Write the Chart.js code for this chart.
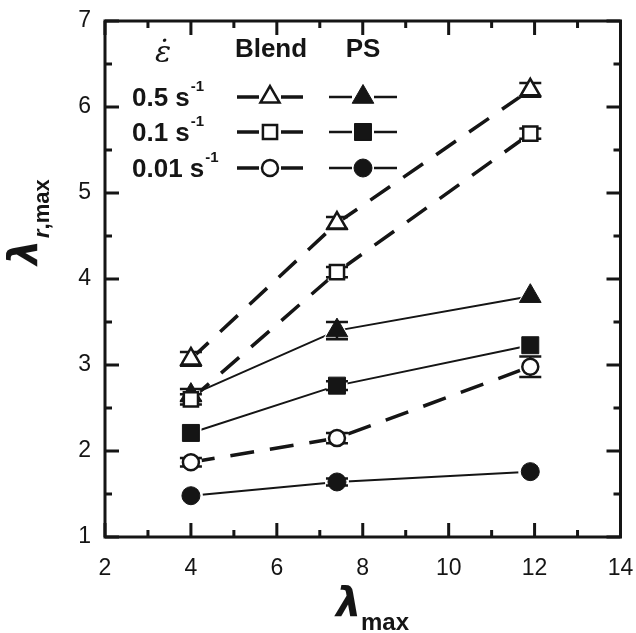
<!DOCTYPE html>
<html>
<head>
<meta charset="utf-8">
<script src="https://cdn.jsdelivr.net/npm/chart.js@4/dist/chart.umd.min.js"></script>
<style>
  html, body { margin: 0; padding: 0; background: #fff; }
</style>
</head>
<body>
<canvas id="chart" width="636" height="633"></canvas>
<script>
// lambda_max values at which stretching was done
const lambdaMax = [4, 7.4, 11.9];

// lambda_r,max for the blend (open symbols) and pure PS (filled symbols)
const blend05 = [3.07, 4.65, 6.2];
const blend01 = [2.6, 4.08, 5.69];
const blend001 = [1.87, 2.15, 2.98];
const ps05 = [2.65, 3.4, 3.8];
const ps01 = [2.21, 2.76, 3.23];
const ps001 = [1.48, 1.64, 1.76];

// error bar half-heights
const blend05Err = [0.08, 0.07, 0.08];
const blend01Err = [0.06, 0.06, 0.06];
const blend001Err = [0.05, 0.06, 0.12];
const ps05Err = [0.07, 0.1, 0];
const ps01Err = [0, 0.05, 0];
const ps001Err = [0, 0.04, 0];

const rates = ['0.5', '0.1', '0.01'];
const ink = '#151515';

const groups = [
  {ys: blend05, err: blend05Err, style: 'triangle', open: true, r: 11},
  {ys: blend01, err: blend01Err, style: 'rect', open: true, r: 10},
  {ys: blend001, err: blend001Err, style: 'circle', open: true, r: 8},
  {ys: ps05, err: ps05Err, style: 'triangle', open: false, r: 12.5},
  {ys: ps01, err: ps01Err, style: 'rect', open: false, r: 12},
  {ys: ps001, err: ps001Err, style: 'circle', open: false, r: 9}
];

const points = g => lambdaMax.map((x, i) => ({x: x, y: g.ys[i]}));

// lines first, then white halos so lines stop short of the symbols, then symbols
const lineSets = groups.map(g => ({
  data: points(g),
  showLine: true,
  tension: 0,
  borderColor: ink,
  borderWidth: g.open ? 3.5 : 2,
  borderDash: g.open ? [24, 16] : [],
  pointRadius: 0,
  pointHoverRadius: 0,
  order: 3
}));

const haloSets = groups.map(g => ({
  data: points(g),
  showLine: false,
  pointStyle: g.style,
  pointRadius: g.r + 3,
  pointHoverRadius: g.r + 3,
  pointBackgroundColor: '#fff',
  pointBorderColor: '#fff',
  pointBorderWidth: 0,
  order: 2
}));

const markSets = groups.map(g => ({
  data: points(g),
  err: g.err,
  showLine: false,
  pointStyle: g.style,
  pointRadius: g.r,
  pointHoverRadius: g.r,
  pointBackgroundColor: g.open ? '#fff' : ink,
  pointBorderColor: ink,
  pointBorderWidth: g.open ? 2.5 : 1,
  order: 1
}));

const errorBars = {
  id: 'errorBars',
  beforeDatasetDraw(chart, args) {
    const ds = chart.data.datasets[args.index];
    if (!ds.err) return;
    const {ctx, scales: {x, y}} = chart;
    ctx.save();
    ctx.strokeStyle = ink;
    ctx.lineWidth = 2.5;
    ctx.setLineDash([]);
    ds.data.forEach((p, i) => {
      const e = ds.err[i];
      if (!e) return;
      const px = x.getPixelForValue(p.x);
      const top = y.getPixelForValue(p.y + e);
      const bot = y.getPixelForValue(p.y - e);
      ctx.beginPath();
      ctx.moveTo(px, top); ctx.lineTo(px, bot);
      ctx.moveTo(px - 11, top); ctx.lineTo(px + 11, top);
      ctx.moveTo(px - 11, bot); ctx.lineTo(px + 11, bot);
      ctx.stroke();
    });
    ctx.restore();
  }
};

function marker(ctx, style, x, y, r, open) {
  ctx.save();
  ctx.fillStyle = open ? '#fff' : ink;
  ctx.strokeStyle = ink;
  ctx.lineWidth = open ? 2.5 : 1;
  Chart.helpers.drawPoint(ctx, {pointStyle: style, radius: r, borderWidth: ctx.lineWidth}, x, y);
  ctx.restore();
}

const frame = {
  id: 'frame',
  afterDraw(chart) {
    const {ctx, chartArea: a, scales: {x, y}} = chart;
    ctx.save();
    ctx.strokeStyle = ink;
    ctx.lineWidth = 3;
    ctx.setLineDash([]);
    ctx.strokeRect(a.left, a.top, a.right - a.left, a.bottom - a.top);

    // inward ticks on all four sides
    ctx.beginPath();
    for (let v = x.min; v <= x.max; v += 1) {
      const px = x.getPixelForValue(v);
      const len = v % 2 === 0 ? 14 : 7;
      ctx.moveTo(px, a.bottom); ctx.lineTo(px, a.bottom - len);
      ctx.moveTo(px, a.top); ctx.lineTo(px, a.top + len);
    }
    for (let v = y.min; v <= y.max; v += 0.5) {
      const py = y.getPixelForValue(v);
      const len = Number.isInteger(v) ? 14 : 7;
      ctx.moveTo(a.left, py); ctx.lineTo(a.left + len, py);
      ctx.moveTo(a.right, py); ctx.lineTo(a.right - len, py);
    }
    ctx.stroke();

    // axis titles
    ctx.fillStyle = ink;
    ctx.textBaseline = 'alphabetic';
    ctx.textAlign = 'left';
    ctx.font = 'bold oblique 40px "DejaVu Sans"';
    ctx.fillText('\u03BB', 336, 616);
    ctx.font = 'bold 24px "Liberation Sans"';
    ctx.fillText('max', 361, 630);

    ctx.save();
    ctx.translate(27, 219);
    ctx.rotate(-Math.PI / 2);
    ctx.font = 'bold oblique 40px "DejaVu Sans"';
    ctx.fillText('\u03BB', -46, 10);
    ctx.font = 'bold italic 22px "Liberation Sans"';
    ctx.fillText('r', -19, 22);
    const rw = ctx.measureText('r').width;
    ctx.font = 'bold 22px "Liberation Sans"';
    ctx.fillText(',max', -19 + rw, 22);
    ctx.restore();

    // legend
    ctx.font = 'italic 30px "DejaVu Serif"';
    ctx.textAlign = 'center';
    ctx.fillText('\u03B5\u0307', 163, 62);
    ctx.font = 'bold 26px "Liberation Sans"';
    ctx.fillText('Blend', 271, 57);
    ctx.fillText('PS', 363, 57);

    const rowY = [97, 132, 168];
    const styles = ['triangle', 'rect', 'circle'];
    const openR = [11, 10, 8];
    const fillR = [12.5, 12, 9];
    rowY.forEach((ry, i) => {
      ctx.textAlign = 'left';
      ctx.font = 'bold 26px "Liberation Sans"';
      const label = rates[i] + ' s';
      ctx.fillText(label, 132, ry + 9);
      const w = ctx.measureText(label).width;
      ctx.font = 'bold 15px "Liberation Sans"';
      ctx.fillText('-1', 132 + w + 1, ry - 6);

      ctx.lineWidth = 3.5;
      ctx.beginPath();
      ctx.moveTo(237, ry); ctx.lineTo(259, ry);
      ctx.moveTo(281, ry); ctx.lineTo(303, ry);
      ctx.stroke();
      ctx.lineWidth = 2.5;
      ctx.beginPath();
      ctx.moveTo(329, ry); ctx.lineTo(352, ry);
      ctx.moveTo(374, ry); ctx.lineTo(397, ry);
      ctx.stroke();
      marker(ctx, styles[i], 270, ry, openR[i], true);
      marker(ctx, styles[i], 363, ry, fillR[i], false);
    });
    ctx.restore();
  }
};

const noOverflow = s => { s.paddingLeft = 0; s.paddingRight = 0; s.paddingTop = 0; s.paddingBottom = 0; };

new Chart(document.getElementById('chart'), {
  type: 'line',
  data: {datasets: [...lineSets, ...haloSets, ...markSets]},
  options: {
    responsive: false,
    animation: false,
    devicePixelRatio: 1,
    layout: {padding: {top: 21, right: 14, left: 0, bottom: 0}},
    plugins: {legend: {display: false}, tooltip: {enabled: false}},
    scales: {
      x: {
        type: 'linear',
        min: 2,
        max: 14,
        afterFit: s => { s.height = 96; noOverflow(s); },
        grid: {display: false, drawTicks: false},
        border: {display: false},
        ticks: {stepSize: 2, padding: 18, color: ink, font: {family: 'Liberation Sans', size: 23}}
      },
      y: {
        type: 'linear',
        min: 1,
        max: 7,
        afterFit: s => { s.width = 105; noOverflow(s); },
        grid: {display: false, drawTicks: false},
        border: {display: false},
        ticks: {stepSize: 1, padding: 14, color: ink, font: {family: 'Liberation Sans', size: 23}}
      }
    }
  },
  plugins: [errorBars, frame]
});
</script>
</body>
</html>
